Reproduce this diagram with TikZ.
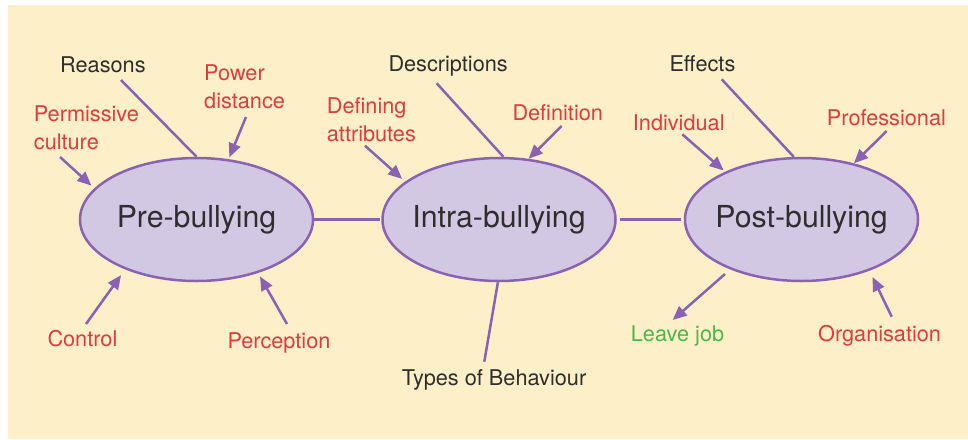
\documentclass[tikz,border=0pt]{standalone}
\usepackage{fontspec}
\setmainfont{TeX Gyre Heros}
\usetikzlibrary{arrows.meta,shapes.geometric}
\definecolor{bg}{HTML}{FDEFC8}
\definecolor{ellfill}{HTML}{D3C8E3}
\definecolor{purp}{HTML}{8B62B3}
\definecolor{redt}{HTML}{E23B3B}
\definecolor{greent}{HTML}{4CB74E}
\definecolor{darkt}{HTML}{2E2E2E}
\begin{document}
\begin{tikzpicture}[x=1pt,y=-1pt,
  stage/.style={ellipse, draw=purp, fill=ellfill, line width=2.5pt,
    minimum width=233pt, minimum height=123pt, inner ysep=0pt, inner xsep=-20pt,
    font=\fontsize{30.3}{32}\selectfont, text=darkt},
  lbl/.style={inner sep=0pt, anchor=base west, align=left,
    font=\fontsize{21.7}{27.6}\selectfont},
  darklbl/.style={lbl, text=darkt},
  redlbl/.style={lbl, text=redt},
  greenlbl/.style={lbl, text=greent},
  link/.style={draw=purp, line width=2.5pt},
  arr/.style={link, -{Triangle[length=14pt,width=12pt]}}
]
\useasboundingbox (0,0) rectangle (968,439);
\fill[bg] (8,5) rectangle (968,439);

% stages
\node[stage] (pre) at (196.5,219.5) {Pre-bullying};
\node[stage] (intra) at (499,219.5) {Intra-bullying};
\node[stage] (post) at (801.5,219.5) {Post-bullying};

% labels (two-line labels are placed by the baseline of their last line)
\node[darklbl] (reasons) at (60,72.3) {Reasons};
\node[redlbl] (power) at (204,108.3) {Power\\distance};
\node[redlbl] (perm) at (33.7,149.3) {Permissive\\culture};
\node[redlbl] (control) at (47.3,346.7) {Control};
\node[redlbl] (percep) at (227.3,348.5) {Perception};

\node[darklbl] (desc) at (388.3,71.7) {Descriptions};
\node[redlbl] (defattr) at (326.7,141) {Defining\\attributes};
\node[redlbl] (definition) at (512.3,120) {Definition};
\node[darklbl] (types) at (401.7,385) {Types of Behaviour};

\node[darklbl] (effects) at (669.3,71.7) {Effects};
\node[redlbl] (indiv) at (632.7,130) {Individual};
\node[redlbl] (prof) at (826.7,125) {Professional};
\node[greenlbl] (leave) at (630.7,341) {Leave job};
\node[redlbl] (org) at (818,341) {Organisation};

% free ends of connectors
\coordinate (cReas) at (121,80);
\coordinate (cPow) at (246,117);
\coordinate (cPerm) at (60,157);
\coordinate (cCtrl) at (86,324);
\coordinate (cPerc) at (287,324);
\coordinate (cDesc) at (436.7,83.3);
\coordinate (cDefn) at (561.7,126);
\coordinate (cDefA) at (365,145.7);
\coordinate (cTypes) at (484.3,361.7);
\coordinate (cEff) at (721.7,79.3);
\coordinate (cInd) at (682.3,134.3);
\coordinate (cProf) at (886.7,131);
\coordinate (cLeave) at (672.7,320);
\coordinate (cOrg) at (891.7,316.7);

% stage links
\draw[link, shorten >=1pt] (pre.east) -- (intra.west);
\draw[link, shorten <=3.5pt, shorten >=2.5pt] (intra.east) -- (post.west);

% pre-bullying
\draw[link] (cReas) -- (pre.north);
\draw[arr, shorten >=2pt] (cPow) -- (pre.62.3);
\draw[arr, shorten >=4pt] (cPerm) -- (pre.163.5);
\draw[arr, shorten >=7pt] (cCtrl) -- (pre.215.1);
\draw[arr, shorten >=4pt] (cPerc) -- (pre.-41.5);

% intra-bullying
\draw[link] (cDesc) -- (intra.86.5);
\draw[arr] (cDefn) -- (intra.64.4);
\draw[arr, shorten >=4pt] (cDefA) -- (intra.158.9);
\draw[link] (intra.-91.5) -- (cTypes);

% post-bullying
\draw[link] (cEff) -- (post.97.5);
\draw[arr, shorten >=2pt] (cInd) -- (post.148.1);
\draw[arr] (cProf) -- (post.47);
\draw[arr, shorten <=7pt] (post.215.4) -- (cLeave);
\draw[arr, shorten >=7pt] (cOrg) -- (post.-37.2);
\end{tikzpicture}
\end{document}
